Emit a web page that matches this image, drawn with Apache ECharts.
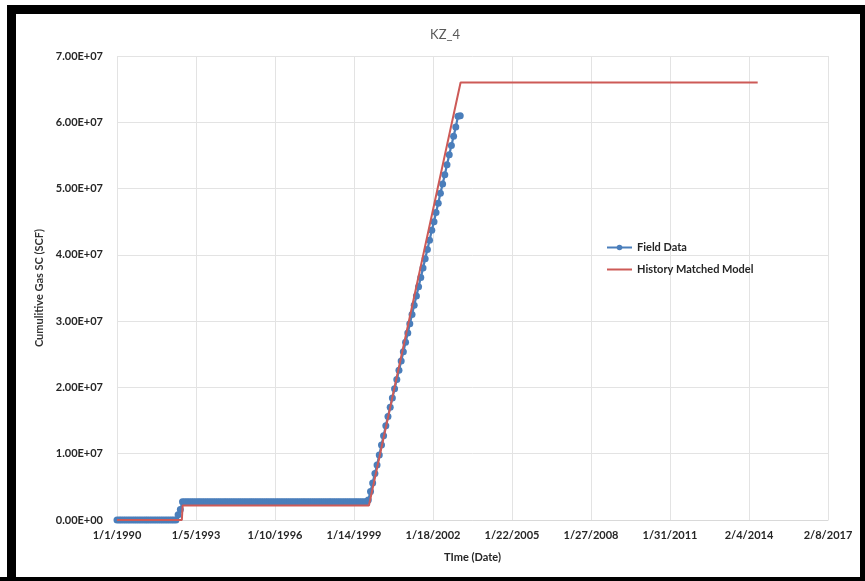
<!DOCTYPE html>
<html>
<head>
<meta charset="utf-8">
<script src="https://cdn.jsdelivr.net/npm/echarts@6/dist/echarts.min.js"></script>
<style>
html,body{margin:0;padding:0;background:#fff;}
#chart{width:865px;height:581px;}
</style>
</head>
<body>
<div id="chart"></div>
<script>
// ---------- DATA ----------
const chartTitle = 'KZ_4';
const xAxisTitle = 'TIme (Date)';
const yAxisTitle = 'Cumulitive Gas SC (SCF)';
const seriesNames = ['Field Data', 'History Matched Model'];

// Field data: monthly samples starting Jan 1990 (values in millions of SCF)
const fieldStart = '1990-01-01';
const fieldValuesMM = [
  // 1990
  0,0,0,0,0,0,0,0,0,0,0,0,
  // 1991
  0,0,0,0,0,0,0,0,0,0,0,0,
  // 1992
  0,0,0,0,0.8,1.6,2.75,2.75,2.75,2.75,2.75,2.75,
  // 1993
  2.75,2.75,2.75,2.75,2.75,2.75,2.75,2.75,2.75,2.75,2.75,2.75,
  // 1994
  2.75,2.75,2.75,2.75,2.75,2.75,2.75,2.75,2.75,2.75,2.75,2.75,
  // 1995
  2.75,2.75,2.75,2.75,2.75,2.75,2.75,2.75,2.75,2.75,2.75,2.75,
  // 1996
  2.75,2.75,2.75,2.75,2.75,2.75,2.75,2.75,2.75,2.75,2.75,2.75,
  // 1997
  2.75,2.75,2.75,2.75,2.75,2.75,2.75,2.75,2.75,2.75,2.75,2.75,
  // 1998
  2.75,2.75,2.75,2.75,2.75,2.75,2.75,2.75,2.75,2.75,2.75,2.75,
  // 1999
  2.75,2.75,2.75,2.75,2.75,2.75,2.75,3.0,4.3,5.6,7.0,8.3,
  // 2000
  9.8,11.3,12.7,14.2,15.6,17.0,18.4,19.8,21.2,22.6,24.0,25.4,
  // 2001
  26.8,28.2,29.6,31.0,32.4,33.8,35.2,36.6,38.0,39.4,40.8,42.2,
  // 2002
  43.7,45.0,46.4,47.8,49.3,50.7,52.1,53.6,55.1,56.5,57.9,59.3,
  // 2003
  60.9,61.0
];

// History matched model: breakpoints
const modelDates = ['1990-01-01','1992-06-22','1992-07-03','1999-08-10','2003-02-06','2014-06-05'];
const modelValuesMM = [0, 0, 2.2, 2.2, 66.0, 66.0];

// Axis ticks
const xMinDays = 0;
const xMaxDays = 9900;
const xIntervalDays = 1100;
const yMax = 7e7;
const yInterval = 1e7;

// ---------- HELPERS ----------
const BASE = Date.UTC(1990, 0, 1);
const DAY = 86400000;
function daysFromIso(s){
  const p = s.split('-').map(Number);
  return (Date.UTC(p[0], p[1]-1, p[2]) - BASE) / DAY;
}
function daysFromMonthIndex(i){
  const p = fieldStart.split('-').map(Number);
  return (Date.UTC(p[0], p[1]-1 + i, p[2]) - BASE) / DAY;
}
function fmtDate(v){
  const d = new Date(BASE + Math.round(v) * DAY);
  return (d.getUTCMonth()+1) + '/' + d.getUTCDate() + '/' + d.getUTCFullYear();
}
function fmtSci(v){
  if (v === 0) return '0.00E+00';
  const e = Math.floor(Math.log10(Math.abs(v)) + 1e-9);
  const m = v / Math.pow(10, e);
  return m.toFixed(2) + 'E' + (e < 0 ? '-' : '+') + String(Math.abs(e)).padStart(2, '0');
}

const fieldData = fieldValuesMM.map((v, i) => [daysFromMonthIndex(i), v * 1e6]);
const modelData = modelDates.map((d, i) => [daysFromIso(d), modelValuesMM[i] * 1e6]);

const FONT = 'Lato, "Open Sans", "Liberation Sans", sans-serif';

const chart = echarts.init(document.getElementById('chart'), null, {renderer: 'canvas'});
chart.setOption({
  animation: false,
  backgroundColor: '#ffffff',
  title: {
    text: chartTitle,
    left: 440,
    top: 23,
    textAlign: 'center',
    textStyle: {fontFamily: FONT, fontSize: 13, fontWeight: 'normal', color: '#595959'}
  },
  legend: {
    data: [
      {name: seriesNames[0]},
      {name: seriesNames[1], itemStyle: {opacity: 0}}
    ],
    orient: 'vertical',
    left: 601,
    top: 237,
    itemWidth: 25,
    itemHeight: 7,
    itemGap: 11,
    textStyle: {fontFamily: FONT, fontSize: 11, fontWeight: 'bold', color: '#262626'}
  },
  grid: {left: 117, right: 37, top: 56, bottom: 61, containLabel: false},
  xAxis: {
    type: 'value',
    min: xMinDays,
    max: xMaxDays,
    interval: xIntervalDays,
    name: xAxisTitle,
    nameLocation: 'middle',
    nameGap: 32,
    nameTextStyle: {fontFamily: FONT, fontSize: 11, fontWeight: 'bold', color: '#262626'},
    axisLine: {show: true, lineStyle: {color: '#d9d9d9', width: 1}},
    axisTick: {show: false},
    splitLine: {show: true, lineStyle: {color: '#e3e3e3', width: 1}},
    axisLabel: {
      formatter: fmtDate,
      margin: 10,
      fontFamily: FONT, fontSize: 11, fontWeight: 'bold', color: '#262626',
      showMinLabel: true, showMaxLabel: true
    }
  },
  yAxis: {
    type: 'value',
    min: 0,
    max: yMax,
    interval: yInterval,
    name: yAxisTitle,
    nameLocation: 'middle',
    nameRotate: 90,
    nameGap: 70,
    nameTextStyle: {fontFamily: FONT, fontSize: 11, fontWeight: 'bold', color: '#333333'},
    axisLine: {show: false},
    axisTick: {show: false},
    splitLine: {show: true, lineStyle: {color: '#e3e3e3', width: 1}},
    axisLabel: {
      formatter: fmtSci,
      margin: 14,
      fontFamily: FONT, fontSize: 11, fontWeight: 'bold', color: '#262626'
    }
  },
  series: [
    {
      name: seriesNames[0],
      type: 'line',
      data: fieldData,
      symbol: 'circle',
      symbolSize: 7,
      showAllSymbol: true,
      lineStyle: {color: '#4A7EBB', width: 2.25},
      itemStyle: {color: '#4A7EBB'},
      z: 2
    },
    {
      name: seriesNames[1],
      type: 'line',
      data: modelData,
      symbol: 'none',
      lineStyle: {color: '#CD5A57', width: 2},
      itemStyle: {color: '#CD5A57'},
      z: 3
    }
  ],
  graphic: [
    {type: 'rect', shape: {x: 7, y: 5, width: 858, height: 9}, style: {fill: '#000'}, silent: true},
    {type: 'rect', shape: {x: 7, y: 5, width: 9, height: 576}, style: {fill: '#000'}, silent: true},
    {type: 'rect', shape: {x: 0, y: 577, width: 865, height: 4}, style: {fill: '#000'}, silent: true},
    {type: 'rect', shape: {x: 860, y: 5, width: 5, height: 576}, style: {fill: '#000'}, silent: true}
  ]
});
</script>
</body>
</html>
